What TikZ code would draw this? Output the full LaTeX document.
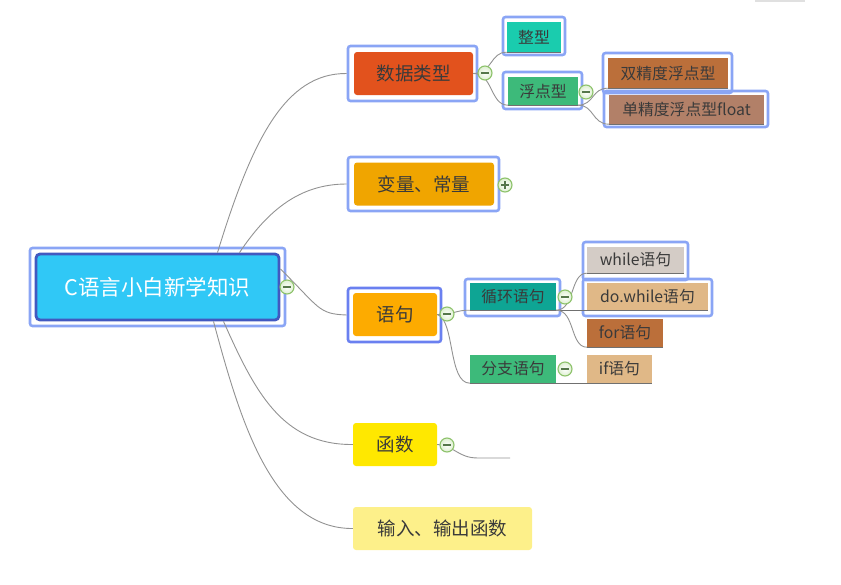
\documentclass[tikz,border=0pt]{standalone}
\usepackage{fontspec}
\setmainfont{Noto Sans CJK SC}
\definecolor{selblue}{HTML}{8AA5F5}
\definecolor{selstrong}{HTML}{6A80F0}
\definecolor{rootfill}{HTML}{30C8F6}
\definecolor{rootborder}{HTML}{4159C0}
\definecolor{txt}{HTML}{3A3A3A}
\definecolor{conn}{HTML}{929292}
\definecolor{uline}{HTML}{707070}
\definecolor{cbord}{HTML}{8DC26B}
\definecolor{cin}{HTML}{DDEFD0}
\definecolor{csign}{HTML}{55774A}
\definecolor{cdt}{HTML}{E2521D}
\definecolor{cvar}{HTML}{F0A500}
\definecolor{cstmt}{HTML}{FDAB00}
\definecolor{cfunc}{HTML}{FFE800}
\definecolor{cio}{HTML}{FDF08A}
\definecolor{cint}{HTML}{1ACCAE}
\definecolor{cgreen}{HTML}{3DBA7A}
\definecolor{cbrown}{HTML}{BB6F3A}
\definecolor{csgl}{HTML}{B28068}
\definecolor{cloop}{HTML}{0EA594}
\definecolor{cwhl}{HTML}{D4CCC6}
\definecolor{ctan}{HTML}{E0B887}
\tikzset{
  selframe/.style={draw=selblue, line width=2.6, rounded corners=2.5, inner sep=0, fill=none},
  mainbox/.style={rounded corners=3, inner sep=0, text=txt, font=\fontsize{18.5}{22}\selectfont, minimum height=43},
  subbox/.style={inner sep=0, text=txt, font=\fontsize{15.8}{19}\selectfont, minimum height=28},
  link/.style={draw=conn, line width=0.9},
  under/.style={draw=uline, line width=1},
  collapse/.style={circle, minimum size=14, inner sep=0, draw=cbord, line width=1.1, inner color=white, outer color=cin,
    path picture={\draw[line width=1.4, csign] ([xshift=-4pt]path picture bounding box.center) -- ([xshift=4pt]path picture bounding box.center);}},
  expand/.style={circle, minimum size=14, inner sep=0, draw=cbord, line width=1.1, inner color=white, outer color=cin,
    path picture={\draw[line width=1.4, csign] ([xshift=-4pt]path picture bounding box.center) -- ([xshift=4pt]path picture bounding box.center)
      ([yshift=-4pt]path picture bounding box.center) -- ([yshift=4pt]path picture bounding box.center);}}
}
\begin{document}
\begin{tikzpicture}[x=1pt,y=-1pt]
\useasboundingbox (0,0) rectangle (841,584);
\fill[black!12] (755,0) rectangle (805,1.5);

% selection frames
\node[selframe, minimum width=255, minimum height=78] (rootsel) at (157.5,287) {};
\node[selframe, minimum width=129, minimum height=55] (dtsel) at (412.5,73.5) {};
\node[selframe, minimum width=151, minimum height=54] (varsel) at (423.5,184) {};
\node[selframe, draw=selstrong, minimum width=93, minimum height=54] (stmtsel) at (394.5,315) {};
\node[selframe, minimum width=62, minimum height=38] (intsel) at (534,36) {};
\node[selframe, minimum width=79, minimum height=37] (fltsel) at (542.5,90.5) {};
\node[selframe, minimum width=129, minimum height=40] (dblsel) at (667.5,73) {};
\node[selframe, minimum width=164, minimum height=36] (sglsel) at (686,109) {};
\node[selframe, minimum width=95, minimum height=37] (loopsel) at (512.5,297.5) {};
\node[selframe, minimum width=105, minimum height=38] (whlsel) at (635.5,261) {};
\node[selframe, minimum width=129, minimum height=37] (dowhlsel) at (647.5,297.5) {};

% root
\node[rounded corners=4, fill=rootfill, draw=rootborder, line width=2.8, inner sep=0,
  minimum width=243, minimum height=66, text=white, font=\fontsize{21.5}{25}\selectfont] (root) at (157.5,287) {C语言小白新学知识};

% main topics
\node[mainbox, fill=cdt, minimum width=119] (dt) at (413.5,73.5) {数据类型};
\node[mainbox, fill=cvar, minimum width=140] (var) at (424,184) {变量、常量};
\node[mainbox, fill=cstmt, minimum width=84] (stmt) at (395,314.5) {语句};
\node[mainbox, fill=cfunc, minimum width=84] (func) at (395,444.5) {函数};
\node[mainbox, fill=cio, minimum width=179] (io) at (442.5,528.5) {输入、输出函数};

% sub topics
\node[subbox, fill=cint, minimum width=54, minimum height=30] (int) at (534,37) {整型};
\node[subbox, fill=cgreen, minimum width=70] (flt) at (543,91) {浮点型};
\node[subbox, fill=cbrown, minimum width=120, minimum height=30] (dbl) at (668,73) {双精度浮点型};
\node[subbox, fill=csgl, minimum width=155, minimum height=29] (sgl) at (686.5,109.5) {单精度浮点型float};
\node[subbox, fill=cloop, minimum width=86, minimum height=27] (loop) at (513,296.5) {循环语句};
\node[subbox, fill=cwhl, minimum width=97, minimum height=26] (whl) at (635.5,260) {while语句};
\node[subbox, fill=ctan, minimum width=121, minimum height=27] (dowhl) at (647.5,296.5) {do.while语句};
\node[subbox, fill=cbrown, minimum width=76] (for) at (625,333) {for语句};
\node[subbox, fill=cgreen, minimum width=86] (br) at (513,369) {分支语句};
\node[subbox, fill=ctan, minimum width=65] (if) at (619.5,369) {if语句};
\coordinate (funcend) at (510,458);

% connectors from root
\draw[link] ([xshift=60]root.north) .. controls (252,140) and (285,73) .. (dtsel.west);
\draw[link] ([xshift=82]root.north) .. controls (268,210) and (300,184) .. (varsel.west);
\draw[link] ([yshift=18]root.east) .. controls (320,308) and (318,314) .. (stmtsel.west);
\draw[link] ([xshift=66]root.south) .. controls (255,392) and (282,445) .. (func.west);
\draw[link] ([xshift=56]root.south) .. controls (240,420) and (272,529) .. (io.west);

% sub connectors
\draw[link] (dt.east) .. controls (493,73) and (490,52) .. (int.south west);
\draw[under] (int.south west) -- (int.south east);
\draw[link] (dt.east) .. controls (493,73) and (490,105) .. (flt.south west);
\draw[under] (flt.south west) -- (flt.south east);
\draw[link] (flt.south east) .. controls (594,105) and (592,88) .. (dbl.south west);
\draw[under] (dbl.south west) -- (dbl.south east);
\draw[link] (flt.south east) .. controls (594,105) and (592,124) .. (sgl.south west);
\draw[under] (sgl.south west) -- (sgl.south east);

\draw[link] (stmt.east) .. controls (456,314) and (456,310) .. (loop.south west);
\draw[under] (loop.south west) -- (loop.south east) -- (dowhl.south west) -- (dowhl.south east);
\draw[link] (loop.south east) .. controls (575,310) and (570,273) .. (whl.south west);
\draw[under] (whl.south west) -- (whl.south east);
\draw[link] (loop.south east) .. controls (575,310) and (570,347) .. (for.south west);
\draw[under] (for.south west) -- (for.south east);
\draw[link] (stmt.east) .. controls (455,320) and (448,383) .. (br.south west);
\draw[under] (br.south west) -- (br.south east) -- (if.south west) -- (if.south east);

\draw[link] (func.east) .. controls (455,446) and (458,458) .. (478,458) -- (funcend);

% collapse buttons
\node[collapse] (croot) at (287,287) {};
\node[collapse] (cdtb) at (485,73) {};
\node[expand] (cvarb) at (505,185) {};
\node[collapse] (cstmtb) at (447,314) {};
\node[collapse] (cfltb) at (586,92) {};
\node[collapse] (cloopb) at (565,297) {};
\node[collapse] (cbrb) at (565,369) {};
\node[collapse] (cfuncb) at (447,445) {};
\end{tikzpicture}
\end{document}
